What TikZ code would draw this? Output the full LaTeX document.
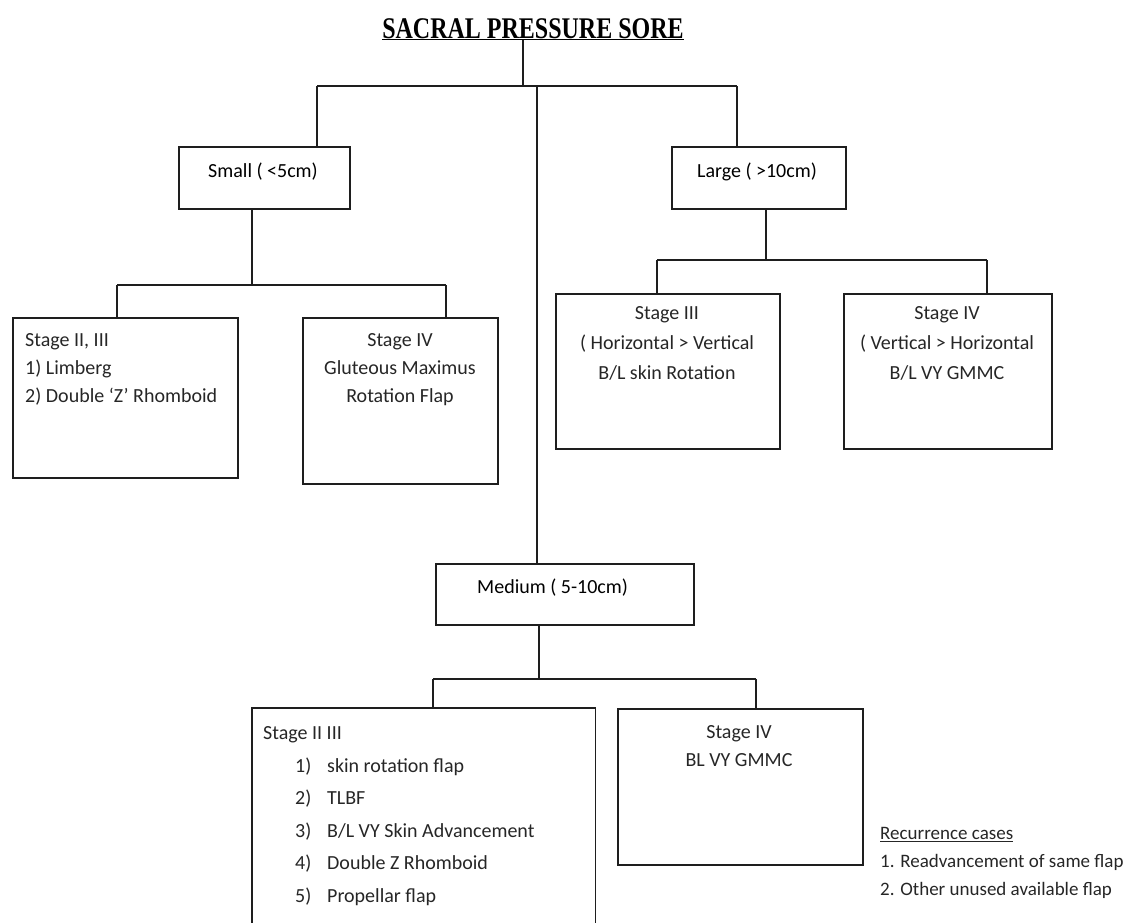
\documentclass[tikz,border=0pt]{standalone}
\usepackage{graphicx}
\usepackage{fontspec}
\setmainfont{Carlito}
\newfontfamily\titlefont{Liberation Serif}
\definecolor{linec}{HTML}{1E1E1E}
\definecolor{textc}{HTML}{262626}
\begin{document}
\begin{tikzpicture}[x=1pt,y=-1pt,
  box/.style={draw=linec, line width=1.8pt, inner sep=0pt, anchor=north west},
  openbox/.style={inner sep=0pt, anchor=north west},
  conn/.style={draw=linec, line width=1.8pt},
  txt/.style={text=textc, inner sep=0pt, font=\fontsize{20}{28}\selectfont},
  hdr/.style={text=black, inner sep=0pt, font=\fontsize{20}{24}\selectfont}]
\useasboundingbox (0,0) rectangle (1142,922);

% title
\node[text=black, inner sep=0pt, anchor=base, font=\titlefont\bfseries\fontsize{30}{30}\selectfont] (title) at (533,38)
  {\scalebox{0.80}[1]{\underline{SACRAL PRESSURE SORE}}};

% boxes
\node[box, minimum width=171pt, minimum height=62pt] (small) at (178,146) {};
\node[box, minimum width=174pt, minimum height=62pt] (large) at (671,146) {};
\node[box, minimum width=258pt, minimum height=61pt] (medium) at (435,563) {};
\node[box, minimum width=225pt, minimum height=160pt] (s1) at (12,317) {};
\node[box, minimum width=195pt, minimum height=166pt] (s2) at (302,317) {};
\node[box, minimum width=224pt, minimum height=155pt] (l1) at (555,293) {};
\node[box, minimum width=208pt, minimum height=155pt] (l2) at (843,293) {};
\node[openbox, minimum width=343pt, minimum height=216pt] (m1) at (252,708) {};
\node[box, minimum width=245pt, minimum height=156pt] (m2) at (617,708) {};
\draw[conn] (m1.south west) -- (m1.north west) -- (m1.north east) -- (m1.south east);

% box texts
\node[hdr] (smallt) at (263,172) {Small ( <5cm)};
\node[hdr] (larget) at (757,172) {Large ( >10cm)};
\node[hdr, anchor=west] (mediumt) at (477,588) {Medium ( 5-10cm)};

\node[txt, anchor=north west, align=left] (s1t) at (25,326.9)
  {\strut Stage II, III\\1) Limberg\\2) Double ‘Z’ Rhomboid};
\node[txt, anchor=north, align=center] (s2t) at (400,326.9)
  {\strut Stage IV\\Gluteous Maximus\\Rotation Flap};
\node[txt, anchor=north, align=center, font=\fontsize{20}{30}\selectfont] (l1t) at (667,298.5)
  {\strut Stage III\\( Horizontal > Vertical\\B/L skin Rotation};
\node[txt, anchor=north, align=center, font=\fontsize{20}{30}\selectfont] (l2t) at (947,298.5)
  {\strut Stage IV\\( Vertical > Horizontal\\B/L VY GMMC};
\node[txt, anchor=north west, align=left, font=\fontsize{20}{32.5}\selectfont] (m1t) at (263,716.8)
  {\strut Stage II III\\
   \hspace*{32pt}\makebox[32pt][l]{1)}skin rotation flap\\
   \hspace*{32pt}\makebox[32pt][l]{2)}TLBF\\
   \hspace*{32pt}\makebox[32pt][l]{3)}B/L VY Skin Advancement\\
   \hspace*{32pt}\makebox[32pt][l]{4)}Double Z Rhomboid\\
   \hspace*{32pt}\makebox[32pt][l]{5)}Propellar flap};
\node[txt, anchor=north, align=center, font=\fontsize{20}{28}\selectfont] (m2t) at (739,718.9)
  {\strut Stage IV\\BL VY GMMC};
\node[txt, anchor=north west, align=left, font=\fontsize{19}{28}\selectfont] (rec) at (880,819.5)
  {\strut\underline{Recurrence cases}\\1. Readvancement of same flap\\2. Other unused available flap};

% connectors: top level
\coordinate (j0) at (523,86);
\coordinate (jl) at (317,86);
\coordinate (jr) at (737,86);
\coordinate (jc) at (537,86);
\draw[conn] (title.south -| j0) -- (j0);
\draw[conn] (jl) -- (jr);
\draw[conn] (jl) -- (jl |- small.north);
\draw[conn] (jr) -- (jr |- large.north);
\draw[conn] (jc) -- (jc |- medium.north);

% small branch
\coordinate (sj) at (252,285);
\coordinate (sjl) at (117,285);
\coordinate (sjr) at (446,285);
\draw[conn] (small.south -| sj) -- (sj);
\draw[conn] (sjl) -- (sjr);
\draw[conn] (sjl) -- (sjl |- s1.north);
\draw[conn] (sjr) -- (sjr |- s2.north);

% large branch
\coordinate (lj) at (766,260);
\coordinate (ljl) at (657,260);
\coordinate (ljr) at (987,260);
\draw[conn] (large.south -| lj) -- (lj);
\draw[conn] (ljl) -- (ljr);
\draw[conn] (ljl) -- (ljl |- l1.north);
\draw[conn] (ljr) -- (ljr |- l2.north);

% medium branch
\coordinate (mj) at (539,679);
\coordinate (mjl) at (433,679);
\coordinate (mjr) at (756,679);
\draw[conn] (medium.south -| mj) -- (mj);
\draw[conn] (mjl) -- (mjr);
\draw[conn] (mjl) -- (mjl |- m1.north);
\draw[conn] (mjr) -- (mjr |- m2.north);
\end{tikzpicture}
\end{document}
